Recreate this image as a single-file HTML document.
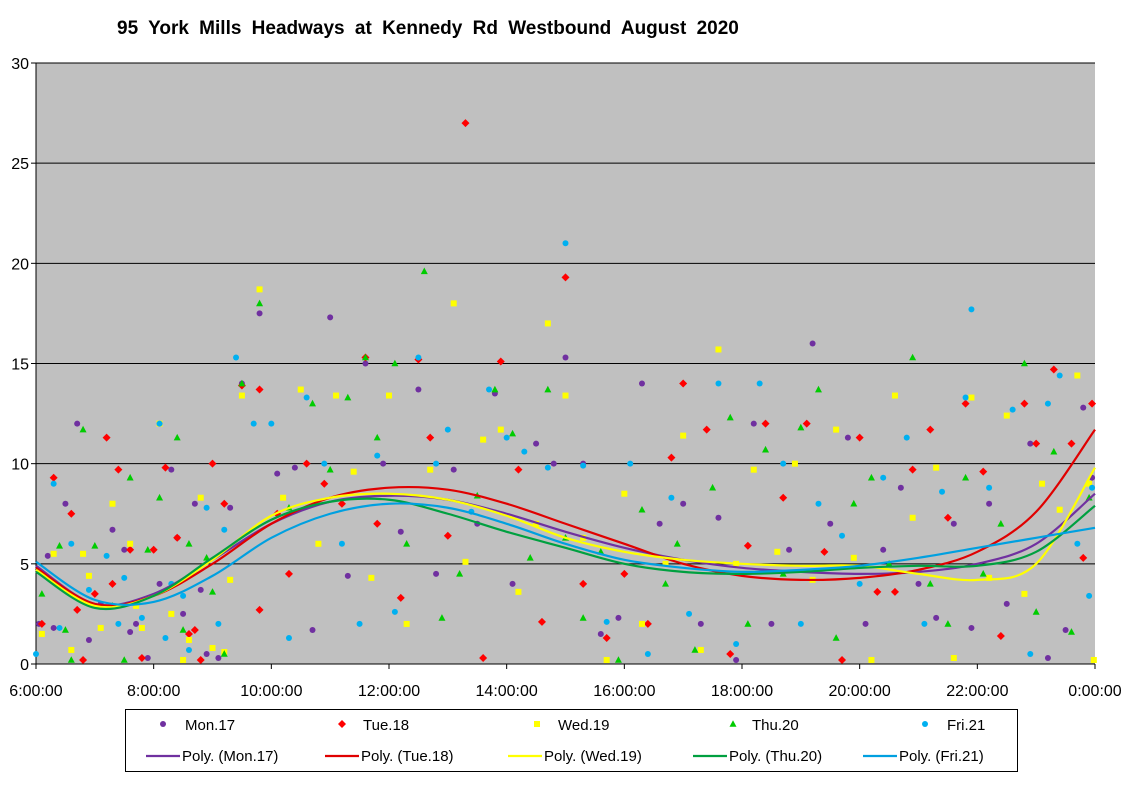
<!DOCTYPE html>
<html><head><meta charset="utf-8"><style>
body{margin:0;background:#fff;width:1129px;height:783px;overflow:hidden;font-family:"Liberation Sans",Arial,sans-serif}
svg text{font-family:"Liberation Sans",Arial,sans-serif}
</style></head><body>
<svg id="chart" width="1129" height="783" xmlns="http://www.w3.org/2000/svg">
<text x="117" y="34" font-size="19" font-weight="bold" word-spacing="5">95 York Mills Headways  at Kennedy Rd Westbound  August  2020</text>
<rect x="36" y="63" width="1059" height="601" fill="#C0C0C0"/>
<g id="grid"></g><g id="axes"></g><g id="points"></g><g id="trends"></g>
<g>
<rect x="125.5" y="709.5" width="892" height="62" fill="#fff" stroke="#000"/>
<g id="legend"></g>
</g>
</svg>
<script>
const yTicks=[0,5,10,15,20,25,30];
const xTicks=[6,8,10,12,14,16,18,20,22,24];
const xTickLabels=["6:00:00","8:00:00","10:00:00","12:00:00","14:00:00","16:00:00","18:00:00","20:00:00","22:00:00","0:00:00"];
const seriesNames=["Mon.17","Tue.18","Wed.19","Thu.20","Fri.21"];
const trendHours=[6,7,8,9,10,11,12,13,14,15,16,17,18,19,20,21,22,23,24];
const trendMon=[4.9,3.0,3.5,5.2,7.0,8.1,8.4,8.2,7.5,6.6,5.8,5.2,4.8,4.6,4.5,4.6,5.0,6.0,8.5];
const trendTue=[4.8,3.0,3.4,5.0,7.0,8.3,8.8,8.7,8.0,7.0,6.0,5.0,4.4,4.2,4.3,4.7,5.6,7.6,11.7];
const trendWed=[4.7,2.9,3.4,5.2,7.4,8.3,8.5,8.2,7.4,6.3,5.6,5.2,5.0,4.9,4.9,4.5,4.2,5.0,9.8];
const trendThu=[4.6,2.8,3.4,5.3,7.2,8.1,8.2,7.5,6.6,5.8,5.0,4.6,4.5,4.6,4.8,4.9,4.9,5.6,7.9];
const trendFri=[5.1,3.2,3.1,4.4,6.3,7.5,8.0,7.8,7.0,6.0,5.2,4.8,4.6,4.7,4.9,5.3,5.8,6.3,6.8];
const ptsMon=[[6.05,2],[6.3,1.8],[6.5,8],[6.7,12],[6.9,1.2],[7.1,3],[7.3,6.7],[7.5,5.7],[7.7,2],[7.9,0.3],[8.1,4],[8.3,9.7],[8.5,2.5],[8.7,8],[8.9,0.5],[9.1,0.3],[9.3,7.8],[9.5,14],[9.8,17.5],[10.1,9.5],[10.4,9.8],[10.7,1.7],[11.0,17.3],[11.3,4.4],[11.6,15],[11.9,10],[12.2,6.6],[12.5,13.7],[12.8,4.5],[13.1,9.7],[13.5,7],[13.8,13.5],[14.1,4],[14.5,11],[14.8,10],[15.0,15.3],[15.3,10],[15.6,1.5],[15.9,2.3],[16.3,14],[16.6,7],[17.0,8],[17.3,2],[17.6,7.3],[17.9,0.2],[18.2,12],[18.5,2],[18.8,5.7],[19.2,16],[19.5,7],[19.8,11.3],[20.1,2],[20.4,5.7],[20.7,8.8],[21.0,4],[21.3,2.3],[21.6,7],[21.9,1.8],[22.2,8],[22.5,3],[22.9,11],[23.2,0.3],[23.5,1.7],[23.8,12.8],[23.95,9.3],[6.2,5.4],[7.6,1.6],[8.4,6.3],[8.8,3.7]];
const ptsTue=[[6.1,2],[6.3,9.3],[6.6,7.5],[6.8,0.2],[7.0,3.5],[7.2,11.3],[7.4,9.7],[7.6,5.7],[7.8,0.3],[8.0,5.7],[8.2,9.8],[8.4,6.3],[8.6,1.5],[8.8,0.2],[9.0,10],[9.2,8],[9.5,13.9],[9.8,13.7],[10.1,7.5],[10.3,4.5],[10.6,10],[10.9,9],[11.2,8],[11.6,15.3],[11.8,7],[12.2,3.3],[12.5,15.2],[12.7,11.3],[13.0,6.4],[13.3,27],[13.6,0.3],[13.9,15.1],[14.2,9.7],[14.6,2.1],[15.0,19.3],[15.3,4],[15.7,1.3],[16.0,4.5],[16.4,2],[16.8,10.3],[17.0,14],[17.4,11.7],[17.8,0.5],[18.1,5.9],[18.4,12],[18.7,8.3],[19.1,12],[19.4,5.6],[19.7,0.2],[20.0,11.3],[20.3,3.6],[20.6,3.6],[20.9,9.7],[21.2,11.7],[21.5,7.3],[21.8,13],[22.1,9.6],[22.4,1.4],[22.8,13],[23.0,11],[23.3,14.7],[23.6,11],[23.8,5.3],[23.95,13],[6.7,2.7],[7.3,4],[8.7,1.7],[9.8,2.7]];
const ptsWed=[[6.1,1.5],[6.3,5.5],[6.6,0.7],[6.8,5.5],[7.1,1.8],[7.3,8],[7.6,6],[7.8,1.8],[8.1,12],[8.3,2.5],[8.6,1.2],[8.8,8.3],[9.0,0.8],[9.3,4.2],[9.5,13.4],[9.8,18.7],[10.2,8.3],[10.5,13.7],[10.8,6],[11.1,13.4],[11.4,9.6],[11.7,4.3],[12.0,13.4],[12.3,2],[12.7,9.7],[13.1,18],[13.3,5.1],[13.6,11.2],[13.9,11.7],[14.2,3.6],[14.5,7],[14.7,17],[15.0,13.4],[15.3,6.3],[15.7,0.2],[16.0,8.5],[16.3,2],[16.7,5],[17.0,11.4],[17.3,0.7],[17.6,15.7],[17.9,5],[18.2,9.7],[18.6,5.6],[18.9,10],[19.2,4.2],[19.6,11.7],[19.9,5.3],[20.2,0.2],[20.6,13.4],[20.9,7.3],[21.3,9.8],[21.6,0.3],[21.9,13.3],[22.2,4.3],[22.5,12.4],[22.8,3.5],[23.1,9],[23.4,7.7],[23.7,14.4],[23.9,9],[23.98,0.2],[6.9,4.4],[7.7,2.9],[8.5,0.2],[9.2,0.6]];
const ptsThu=[[6.1,3.5],[6.4,5.9],[6.6,0.2],[6.8,11.7],[7.0,5.9],[7.3,2.9],[7.6,9.3],[7.9,5.7],[8.1,8.3],[8.4,11.3],[8.6,6],[8.9,5.3],[9.2,0.5],[9.5,14],[9.8,18],[10.3,7.8],[10.7,13],[11.0,9.7],[11.3,13.3],[11.6,15.3],[11.8,11.3],[12.1,15],[12.3,6],[12.6,19.6],[12.9,2.3],[13.2,4.5],[13.5,8.4],[13.8,13.7],[14.1,11.5],[14.4,5.3],[14.7,13.7],[15.0,6.3],[15.3,2.3],[15.6,5.6],[15.9,0.2],[16.3,7.7],[16.7,4],[16.9,6],[17.2,0.7],[17.5,8.8],[17.8,12.3],[18.1,2],[18.4,10.7],[18.7,4.5],[19.0,11.8],[19.3,13.7],[19.6,1.3],[19.9,8],[20.2,9.3],[20.5,5],[20.9,15.3],[21.2,4],[21.5,2],[21.8,9.3],[22.1,4.5],[22.4,7],[22.8,15],[23.0,2.6],[23.3,10.6],[23.6,1.6],[23.9,8.3],[6.5,1.7],[7.5,0.2],[8.5,1.7],[9.0,3.6]];
const ptsFri=[[6.0,0.5],[6.3,9],[6.6,6],[6.9,3.7],[7.2,5.4],[7.5,4.3],[7.8,2.3],[8.1,12],[8.3,4],[8.6,0.7],[8.9,7.8],[9.2,6.7],[9.4,15.3],[9.7,12],[10.0,12],[10.3,1.3],[10.6,13.3],[10.9,10],[11.2,6],[11.5,2],[11.8,10.4],[12.1,2.6],[12.5,15.3],[12.8,10],[13.0,11.7],[13.4,7.6],[13.7,13.7],[14.0,11.3],[14.3,10.6],[14.7,9.8],[15.0,21],[15.3,9.9],[15.7,2.1],[16.1,10],[16.4,0.5],[16.8,8.3],[17.1,2.5],[17.6,14],[17.9,1],[18.3,14],[18.7,10],[19.0,2],[19.3,8],[19.7,6.4],[20.0,4],[20.4,9.3],[20.8,11.3],[21.1,2],[21.4,8.6],[21.8,13.3],[21.9,17.7],[22.2,8.8],[22.6,12.7],[22.9,0.5],[23.2,13],[23.4,14.4],[23.7,6],[23.9,3.4],[23.95,8.8],[6.4,1.8],[7.4,2],[8.2,1.3],[8.5,3.4],[9.1,2]];

const NS="http://www.w3.org/2000/svg";
const X0=36,X1=1095,Y0=664,Y1=63;
function xs(h){return X0+(h-6)/18*(X1-X0);}
function ys(v){return Y0-v/30*(Y0-Y1);}
function mk(tag,attrs,parent){const e=document.createElementNS(NS,tag);for(const k in attrs)e.setAttribute(k,attrs[k]);parent.appendChild(e);return e;}
const grid=document.getElementById('grid'),axes=document.getElementById('axes');
yTicks.forEach(v=>{
  if(v>0){const l=mk('line',{x1:X0,x2:X1,y1:ys(v),y2:ys(v),stroke:'#000','stroke-width':1},grid);
  
  }
  mk('line',{x1:X0-5,x2:X0,y1:ys(v),y2:ys(v),stroke:'#000'},axes);
  const t=mk('text',{x:X0-7,y:ys(v)+6,'font-size':16,'text-anchor':'end'},axes);t.textContent=v;
  
  
});
xTicks.forEach((h,i)=>{
  mk('line',{x1:xs(h),x2:xs(h),y1:Y0,y2:Y0+5,stroke:'#000'},axes);
  const t=mk('text',{x:xs(h),y:Y0+32,'font-size':16,'text-anchor':'middle'},axes);t.textContent=xTickLabels[i];
  
  
});
mk('line',{x1:X0,x2:X0,y1:Y1,y2:Y0,stroke:'#000'},axes);
mk('line',{x1:X0,x2:X1,y1:Y0,y2:Y0,stroke:'#000'},axes);
const colors=['#7030A0','#FF0000','#FFFF00','#00CC00','#00B0F0'];
const shapes=['circle','diamond','square','triangle','circle'];
const allPts=[ptsMon,ptsTue,ptsWed,ptsThu,ptsFri];
const allTrends=[trendMon,trendTue,trendWed,trendThu,trendFri];
const lineColors=['#7030A0','#E00000','#FFFF00','#00A040','#00A0E0'];
function marker(shape,x,y,c,parent){
  if(shape==='circle')return mk('circle',{cx:x,cy:y,r:3,fill:c},parent);
  if(shape==='square')return mk('rect',{x:x-3,y:y-3,width:6,height:6,fill:c},parent);
  if(shape==='diamond')return mk('polygon',{points:`${x},${y-4} ${x+4},${y} ${x},${y+4} ${x-4},${y}`,fill:c},parent);
  return mk('polygon',{points:`${x},${y-3.8} ${x+3.5},${y+2.8} ${x-3.5},${y+2.8}`,fill:c},parent);
}
const pg=document.getElementById('points');
allPts.forEach((pts,s)=>{pts.forEach(p=>{
  const m=marker(shapes[s],xs(p[0]),ys(p[1]),colors[s],pg);
  
  
});});
const tg=document.getElementById('trends');
allTrends.forEach((vals,s)=>{
  const P=trendHours.map((h,i)=>[xs(h),ys(vals[i])]);
  let d=`M${P[0][0]},${P[0][1]}`;
  for(let i=0;i<P.length-1;i++){
    const p0=P[Math.max(0,i-1)],p1=P[i],p2=P[i+1],p3=P[Math.min(P.length-1,i+2)];
    const c1=[p1[0]+(p2[0]-p0[0])/6,p1[1]+(p2[1]-p0[1])/6];
    const c2=[p2[0]-(p3[0]-p1[0])/6,p2[1]-(p3[1]-p1[1])/6];
    d+=` C${c1[0]},${c1[1]} ${c2[0]},${c2[1]} ${p2[0]},${p2[1]}`;
  }
  const path=mk('path',{d:d,fill:'none',stroke:lineColors[s],'stroke-width':2.2},tg);
  
  
});
const lg=document.getElementById('legend');
const mx=[163,342,537,733,925], tx=[185,363,558,752,947];
const lx=[146,325,508,693,863];
seriesNames.forEach((n,s)=>{
  const g=mk('g',{},lg);
  
  
  marker(shapes[s],mx[s],724,colors[s],g);
  const t=mk('text',{x:tx[s],y:730,'font-size':15},g);t.textContent=n;
  const g2=mk('g',{},lg);
  
  
  mk('line',{x1:lx[s],x2:lx[s]+34,y1:756,y2:756,stroke:lineColors[s],'stroke-width':2.2},g2);
  const t2=mk('text',{x:lx[s]+36,y:761,'font-size':15},g2);t2.textContent='Poly. ('+n+')';
});
</script>
</body></html>
